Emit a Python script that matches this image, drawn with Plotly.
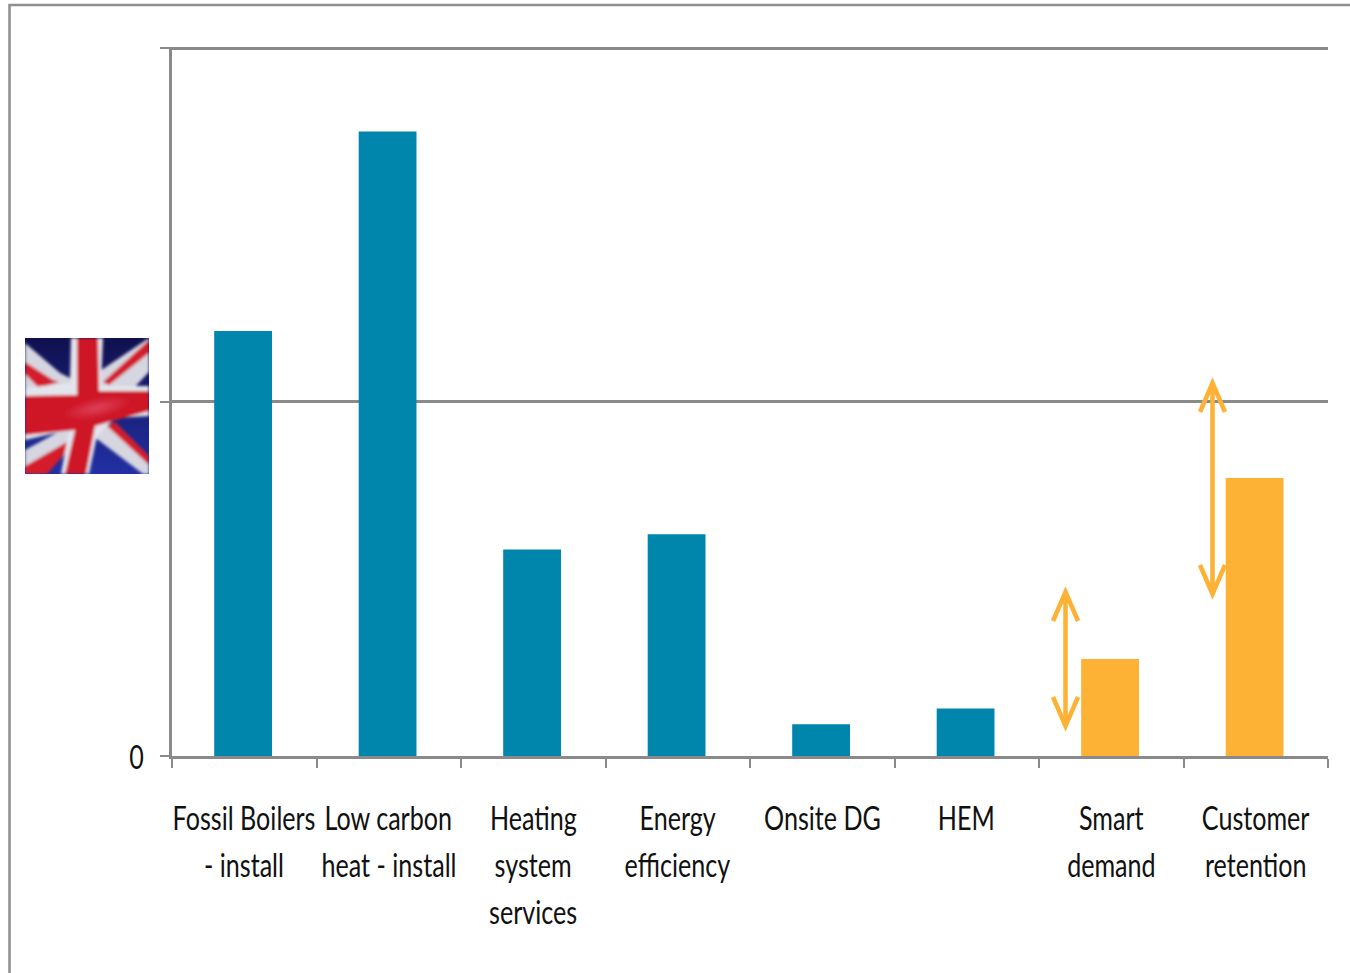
import base64
import plotly.graph_objects as go

# Dados (escala arbitraria, so o zero aparece no eixo)
categorias = ["Fossil Boilers", "Low carbon", "Heating", "Energy", "Onsite DG", "HEM", "Smart", "Customer"]
linhas_rotulo = [
    ["Fossil Boilers", "- install"],
    ["Low carbon", "heat - install"],
    ["Heating", "system", "services"],
    ["Energy", "efficiency"],
    ["Onsite DG"],
    ["HEM"],
    ["Smart", "demand"],
    ["Customer", "retention"],
]
valores = [1.201, 1.765, 0.584, 0.627, 0.090, 0.134, 0.274, 0.786]
cores_barras = ["#0085AD"] * 6 + ["#FDB135"] * 2
ticks_y = [0, 1.001, 2]
rotulos_y = ["0", "", ""]

LARGURA, ALTURA = 1350, 973
ESQ, DIR, TOPO, BASE = 172, 1328, 47, 756
CINZA = "#8a8a8a"
LARANJA = "#FDB135"
FONTE = "Lato"
COR_TEXTO = "#111111"
ESCALA_TEXTO = 0.785  # o original tem a letra comprimida na horizontal


def px_x(p):
    return (p - ESQ) / (DIR - ESQ)


def px_y(p):
    return (BASE - p) / (BASE - TOPO)


def seta_dupla(x, topo, fundo):
    # seta aberta nas duas pontas, em pixels da pagina
    a, b = 12.5, 29
    return (
        f"M {px_x(x - a)} {px_y(topo + b)} L {px_x(x)} {px_y(topo)} L {px_x(x + a)} {px_y(topo + b)} "
        f"M {px_x(x)} {px_y(topo)} L {px_x(x)} {px_y(fundo)} "
        f"M {px_x(x - a)} {px_y(fundo - b)} L {px_x(x)} {px_y(fundo)} L {px_x(x + a)} {px_y(fundo - b)}"
    )


# Bandeira desenhada em SVG, com blur como a foto original
bandeira_svg = """<svg xmlns="http://www.w3.org/2000/svg" width="124" height="136" viewBox="0 0 124 136">
<defs>
<linearGradient id="g" x1="0" y1="0" x2="0" y2="1"><stop offset="0" stop-color="#10104e"/><stop offset="1" stop-color="#2230a4"/></linearGradient>
<radialGradient id="h" cx="0.5" cy="0.5" r="0.5"><stop offset="0" stop-color="#e04a64" stop-opacity="0.8"/><stop offset="1" stop-color="#e04a64" stop-opacity="0"/></radialGradient>
<filter id="b" x="-5%" y="-5%" width="110%" height="110%"><feGaussianBlur stdDeviation="1.6"/></filter>
</defs>
<rect width="124" height="136" fill="url(#g)"/>
<g filter="url(#b)">
<polygon points="0,5 35,35 45,40 45,58 0,50" fill="#d6d6e0"/>
<polygon points="0,24 28,42 34,44 14,50 0,36" fill="#d41e2c"/>
<polygon points="124,0 124,34 104,55 70,55 72,35" fill="#d6d6e0"/>
<polygon points="124,2 124,15 84,47 78,44" fill="#d41e2c"/>
<polygon points="0,112 50,85 55,100 20,136 0,136" fill="#d6d6e0"/>
<polygon points="0,136 0,128 42,104 45,110 22,136" fill="#d41e2c"/>
<polygon points="75,80 124,122 124,136 118,136 68,98" fill="#d6d6e0"/>
<polygon points="90,84 124,118 124,127 82,88" fill="#d41e2c"/>
<polygon points="0,50 45,45 46,0 78,0 76,48 124,48 124,78 90,80 72,98 64,136 36,136 44,92 0,102" fill="#e4e4ec"/>
<polygon points="52,0 73,0 74,53 124,53 124,73 70,88 61,136 40,136 50,92 0,97 0,58 52,57" fill="#cf1828"/>
<ellipse cx="72" cy="70" rx="34" ry="10" fill="url(#h)" transform="rotate(-12 72 70)"/>
</g>
</svg>"""
bandeira_uri = "data:image/svg+xml;base64," + base64.b64encode(bandeira_svg.encode()).decode()

fig = go.Figure(go.Bar(
    x=categorias, y=valores,
    width=0.4, offset=-0.208,
    marker=dict(color=cores_barras, line=dict(width=0)),
    showlegend=False,
))

# Rotulos das categorias, uma anotacao por linha por causa do espacamento
for cat, linhas in zip(categorias, linhas_rotulo):
    for i, texto in enumerate(linhas):
        fig.add_annotation(
            x=cat, y=0, yref="paper", text=texto, showarrow=False,
            xanchor="center", yanchor="middle", yshift=-(61 + 47 * i),
            font=dict(family=FONTE, size=32, color=COR_TEXTO),
        )

# Moldura externa
fig.add_shape(
    type="path", xref="paper", yref="paper",
    path=f"M {px_x(9.5)} {px_y(973)} L {px_x(9.5)} {px_y(5)} L {px_x(1350)} {px_y(5)}",
    line=dict(color="#8e8e8e", width=2.5),
)

# Setas de incerteza
fig.add_shape(type="path", xref="paper", yref="paper", path=seta_dupla(1065.5, 592, 726), line=dict(color=LARANJA, width=4.5))
fig.add_shape(type="path", xref="paper", yref="paper", path=seta_dupla(1212.5, 383, 594), line=dict(color=LARANJA, width=4.5))

fig.add_layout_image(
    source=bandeira_uri, xref="paper", yref="paper",
    x=px_x(25), y=px_y(338), sizex=124 / (DIR - ESQ), sizey=136 / (BASE - TOPO),
    xanchor="left", yanchor="top", sizing="stretch", layer="above",
)

fig.update_layout(
    width=LARGURA, height=ALTURA,
    margin=dict(l=ESQ, r=LARGURA - DIR, t=TOPO, b=ALTURA - BASE, pad=0),
    paper_bgcolor="white", plot_bgcolor="white",
    font=dict(family=FONTE, size=32, color=COR_TEXTO),
    xaxis=dict(
        type="category", range=[-0.5, 7.5], tickson="boundaries", ticks="outside", ticklen=9, tickwidth=2,
        tickcolor=CINZA, showticklabels=False, showgrid=False,
        showline=True, linecolor=CINZA, linewidth=3, zeroline=False,
    ),
    yaxis=dict(
        range=[0, 2.004], tickmode="array", tickvals=ticks_y, ticktext=rotulos_y,
        ticks="outside", ticklen=9, tickwidth=2, tickcolor=CINZA,
        showgrid=True, gridcolor=CINZA, gridwidth=2.5, zeroline=False,
        showline=True, linecolor=CINZA, linewidth=2.5, ticklabelstandoff=8,
        tickfont=dict(family=FONTE, size=32, color=COR_TEXTO),
    ),
)

# Comprime os textos na horizontal, em torno do centro de cada um
comprime = f"""
document.body.style.margin = '0';
document.querySelectorAll('.annotation-text, .ytick text').forEach(function (t) {{
    var c = t.getBBox();
    var cx = c.x + c.width / 2;
    var antes = t.getAttribute('transform') || '';
    var desce = t.closest('.ytick') ? 2 : 0;
    if (c.width > 0) t.setAttribute('transform', antes + ' translate(' + cx + ' ' + desce + ') scale({ESCALA_TEXTO} 1) translate(' + (-cx) + ' 0)');
}});
"""

fig.write_html("out.html", config={"displayModeBar": False}, post_script=comprime)
